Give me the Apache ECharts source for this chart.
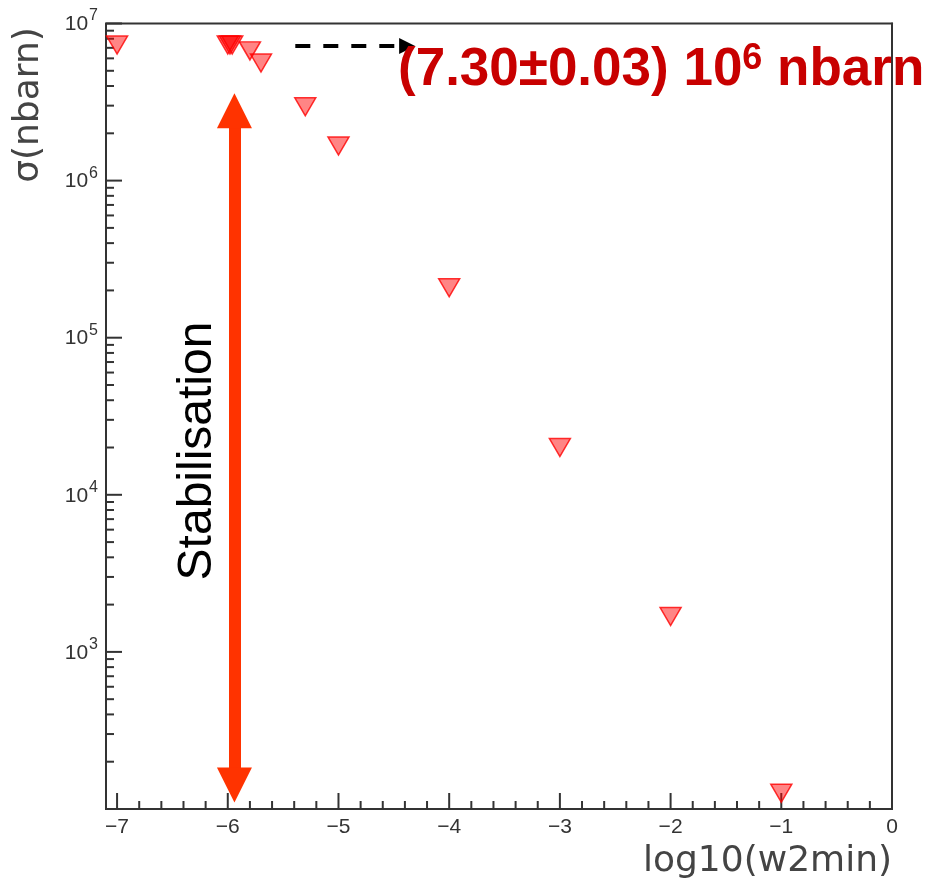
<!DOCTYPE html>
<html>
<head>
<meta charset="utf-8">
<script src="https://cdn.jsdelivr.net/npm/echarts@6/dist/echarts.min.js"></script>
<style>
  html, body { margin: 0; padding: 0; background: #ffffff; }
  #chart { width: 930px; height: 883px; }
</style>
</head>
<body>
<div id="chart"></div>
<script>
// Cross section versus the w2min cut (x = log10(w2min), y = sigma in nbarn)
const logW2min  = [-7.0, -6.0, -5.98, -5.96, -5.8, -5.7, -5.3, -5.0, -4.0, -3.0, -2.0, -1.0];
const sigmaNbarn = [7.3e6, 7.3e6, 7.3e6, 7.3e6, 6.7e6, 5.6e6, 2.95e6, 1.66e6, 2.08e5, 2.0e4, 1.68e3, 126];

// Axis ticks
const xMajorTicks = [-7, -6, -5, -4, -3, -2, -1, 0];
const xMinorTicks = [-6.8, -6.6, -6.4, -6.2, -5.8, -5.6, -5.4, -5.2, -4.8, -4.6, -4.4, -4.2,
                     -3.8, -3.6, -3.4, -3.2, -2.8, -2.6, -2.4, -2.2, -1.8, -1.6, -1.4, -1.2,
                     -0.8, -0.6, -0.4, -0.2];
const yMajorTicks = [1e3, 1e4, 1e5, 1e6, 1e7];
const yMinorTicks = [200, 300, 400, 500, 600, 700, 800, 900,
                     2e3, 3e3, 4e3, 5e3, 6e3, 7e3, 8e3, 9e3,
                     2e4, 3e4, 4e4, 5e4, 6e4, 7e4, 8e4, 9e4,
                     2e5, 3e5, 4e5, 5e5, 6e5, 7e5, 8e5, 9e5,
                     2e6, 3e6, 4e6, 5e6, 6e6, 7e6, 8e6, 9e6];

// Plateau result (units of 10^6 nbarn)
const plateauValue = '7.30';
const plateauError = '0.03';

// Annotation arrows: [x, y] end points in data units
const stabilisationArrow = [[-5.94, 142], [-5.94, 2.78e6]];
const plateauArrow = [[-5.39, 7.2e6], [-4.38, 7.2e6]];

const X_MIN = -7.1, X_MAX = 0, Y_MIN = 100, Y_MAX = 1e7;

const axisColor = '#333333';
const tickFont = 'Liberation Sans, Arial, sans-serif';
const titleFont = 'DejaVu Sans, sans-serif';
const MAJOR_LEN = 16, MINOR_LEN = 8;

// Inward tick marks along the bottom axis
function xTickSeries(values, len) {
  return {
    type: 'custom', coordinateSystem: 'cartesian2d', silent: true, clip: false, z: 4,
    data: values.map(v => [v, Y_MIN]),
    renderItem: (params, api) => {
      const p = api.coord([api.value(0), api.value(1)]);
      return { type: 'line', shape: { x1: p[0], y1: p[1], x2: p[0], y2: p[1] - len },
               style: { stroke: axisColor, lineWidth: 2 } };
    }
  };
}

// Inward tick marks along the left axis
function yTickSeries(values, len) {
  return {
    type: 'custom', coordinateSystem: 'cartesian2d', silent: true, clip: false, z: 4,
    data: values.map(v => [X_MIN, v]),
    renderItem: (params, api) => {
      const p = api.coord([api.value(0), api.value(1)]);
      return { type: 'line', shape: { x1: p[0], y1: p[1], x2: p[0] + len, y2: p[1] },
               style: { stroke: axisColor, lineWidth: 2 } };
    }
  };
}

const chart = echarts.init(document.getElementById('chart'), null, { renderer: 'canvas' });

const option = {
  animation: false,
  backgroundColor: '#ffffff',
  grid: {
    left: 106, right: 38, top: 23.5, bottom: 74,
    show: true, borderColor: axisColor, borderWidth: 2, backgroundColor: 'transparent'
  },
  xAxis: {
    type: 'value', min: X_MIN, max: X_MAX,
    name: 'log10(w2min)', nameLocation: 'end', nameGap: 0,
    nameTextStyle: {
      fontFamily: titleFont, fontSize: 36, color: '#444444',
      align: 'right', verticalAlign: 'top', padding: [35, 0, 0, 0]
    },
    axisLine: { show: true, lineStyle: { color: axisColor, width: 2 } },
    axisTick: { show: false },
    axisLabel: {
      customValues: xMajorTicks, margin: 8,
      fontFamily: tickFont, fontSize: 21, color: axisColor,
      formatter: v => (v === 0 ? '0' : '\u2212' + Math.abs(v))
    },
    splitLine: { show: false }
  },
  yAxis: {
    type: 'log', logBase: 10, min: Y_MIN, max: Y_MAX,
    axisLine: { show: true, lineStyle: { color: axisColor, width: 2 } },
    axisTick: { show: false },
    axisLabel: {
      customValues: yMajorTicks, margin: 8,
      formatter: v => '{b|10}{e|' + Math.round(Math.log10(v)) + '}',
      rich: {
        b: { fontFamily: tickFont, fontSize: 21, color: axisColor, padding: [2, 1, 0, 0] },
        e: { fontFamily: tickFont, fontSize: 16, color: axisColor, padding: [0, 0, 15, 0] }
      }
    },
    splitLine: { show: false }
  },
  series: [
    {
      name: 'sigma',
      type: 'scatter',
      symbol: 'triangle',
      symbolRotate: 180,
      symbolSize: [21, 18],
      itemStyle: {
        color: 'rgba(255, 0, 0, 0.6)',
        borderColor: '#ff0000', borderWidth: 1.5
      },
      emphasis: { disabled: true },
      data: logW2min.map((x, i) => [x, sigmaNbarn[i]]),
      z: 5
    },
    xTickSeries(xMajorTicks, MAJOR_LEN),
    xTickSeries(xMinorTicks, MINOR_LEN),
    yTickSeries(yMajorTicks, MAJOR_LEN),
    yTickSeries(yMinorTicks, MINOR_LEN),
    {
      // double-headed stabilisation arrow
      type: 'line', data: [], silent: true,
      markLine: {
        silent: true, animation: false,
        symbol: ['triangle', 'triangle'], symbolSize: [35, 35],
        label: { show: false },
        lineStyle: { color: '#ff3300', width: 12, type: 'solid', opacity: 1 },
        itemStyle: { color: '#ff3300' },
        emphasis: { disabled: true },
        data: [[{ coord: stabilisationArrow[0] }, { coord: stabilisationArrow[1] }]]
      },
      z: 3
    },
    {
      // dashed arrow pointing at the plateau value
      type: 'line', data: [], silent: true,
      markLine: {
        silent: true, animation: false,
        symbol: ['none', 'triangle'], symbolSize: [16, 16],
        label: { show: false },
        lineStyle: { color: '#000000', width: 4, type: [15, 13], opacity: 1 },
        itemStyle: { color: '#000000' },
        emphasis: { disabled: true },
        data: [[{ coord: plateauArrow[0] }, { coord: plateauArrow[1] }]]
      },
      z: 3
    }
  ],
  graphic: [
    {
      type: 'text', x: 28.5, y: 105, rotation: Math.PI / 2, silent: true,
      style: {
        text: '\u03c3(nbarn)', fontFamily: titleFont, fontSize: 36, fill: '#444444',
        align: 'center', verticalAlign: 'middle'
      }
    },
    {
      type: 'text', x: 198, y: 451, rotation: Math.PI / 2, silent: true, z: 10,
      style: {
        text: 'Stabilisation', fontFamily: tickFont, fontSize: 48, fill: '#000000',
        align: 'center', verticalAlign: 'middle'
      }
    },
    {
      type: 'text', x: 398, y: 70, silent: true, z: 10,
      style: {
        text: '{m|(' + plateauValue + '\u00b1' + plateauError + ') 10}{s|6}{m| nbarn}',
        align: 'left', verticalAlign: 'middle',
        rich: {
          m: { fontFamily: tickFont, fontSize: 53, fontWeight: 'bold', fill: '#c80000' },
          s: { fontFamily: tickFont, fontSize: 36, fontWeight: 'bold', fill: '#c80000',
               padding: [0, 0, 21, 0] }
        }
      }
    }
  ]
};

chart.setOption(option);
</script>
</body>
</html>
